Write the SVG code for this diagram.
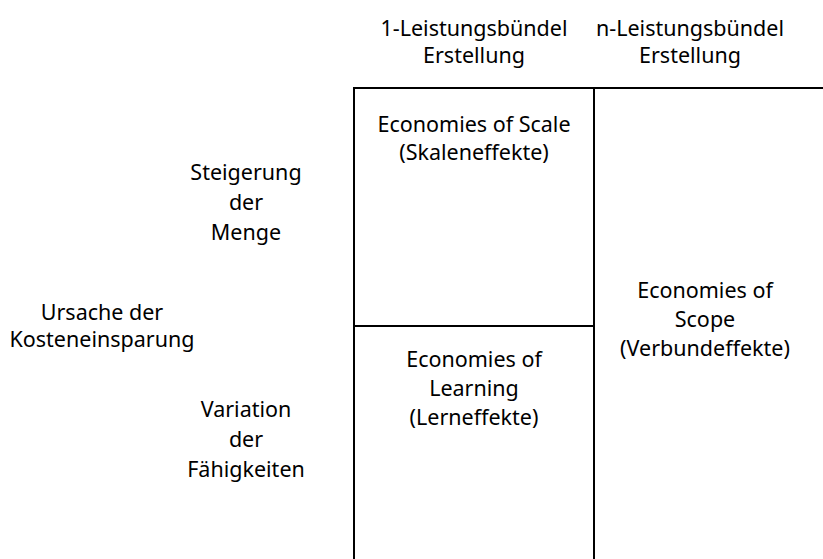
<svg xmlns="http://www.w3.org/2000/svg" width="823" height="559" viewBox="0 0 823 559">
<style>
text{font-family:"Noto Sans","Open Sans","DejaVu Sans",sans-serif;font-size:21.5px;fill:#000;text-anchor:middle}
.ln{stroke:#000;stroke-width:2;fill:none}
</style>
<rect width="823" height="559" fill="#fff"/>
<g id="grid">
<path class="ln" d="M354,559 V88 H823 M594,88 V559 M354,326 H594"/>
</g>
<g id="col1"><text x="474" y="36">1-Leistungsbündel</text><text x="474" y="63">Erstellung</text></g>
<g id="col2"><text x="690" y="36">n-Leistungsbündel</text><text x="690" y="63">Erstellung</text></g>
<g id="row-title"><text x="102" y="320">Ursache der</text><text x="102" y="347">Kosteneinsparung</text></g>
<g id="row1"><text x="246" y="180">Steigerung</text><text x="246" y="210">der</text><text x="246" y="240">Menge</text></g>
<g id="row2"><text x="246" y="417">Variation</text><text x="246" y="447">der</text><text x="246" y="477">Fähigkeiten</text></g>
<g id="scale"><text x="474" y="132">Economies of Scale</text><text x="474" y="160">(Skaleneffekte)</text></g>
<g id="learning"><text x="474" y="367">Economies of</text><text x="474" y="396">Learning</text><text x="474" y="425">(Lerneffekte)</text></g>
<g id="scope"><text x="705" y="298">Economies of</text><text x="705" y="327">Scope</text><text x="705" y="356">(Verbundeffekte)</text></g>
</svg>
